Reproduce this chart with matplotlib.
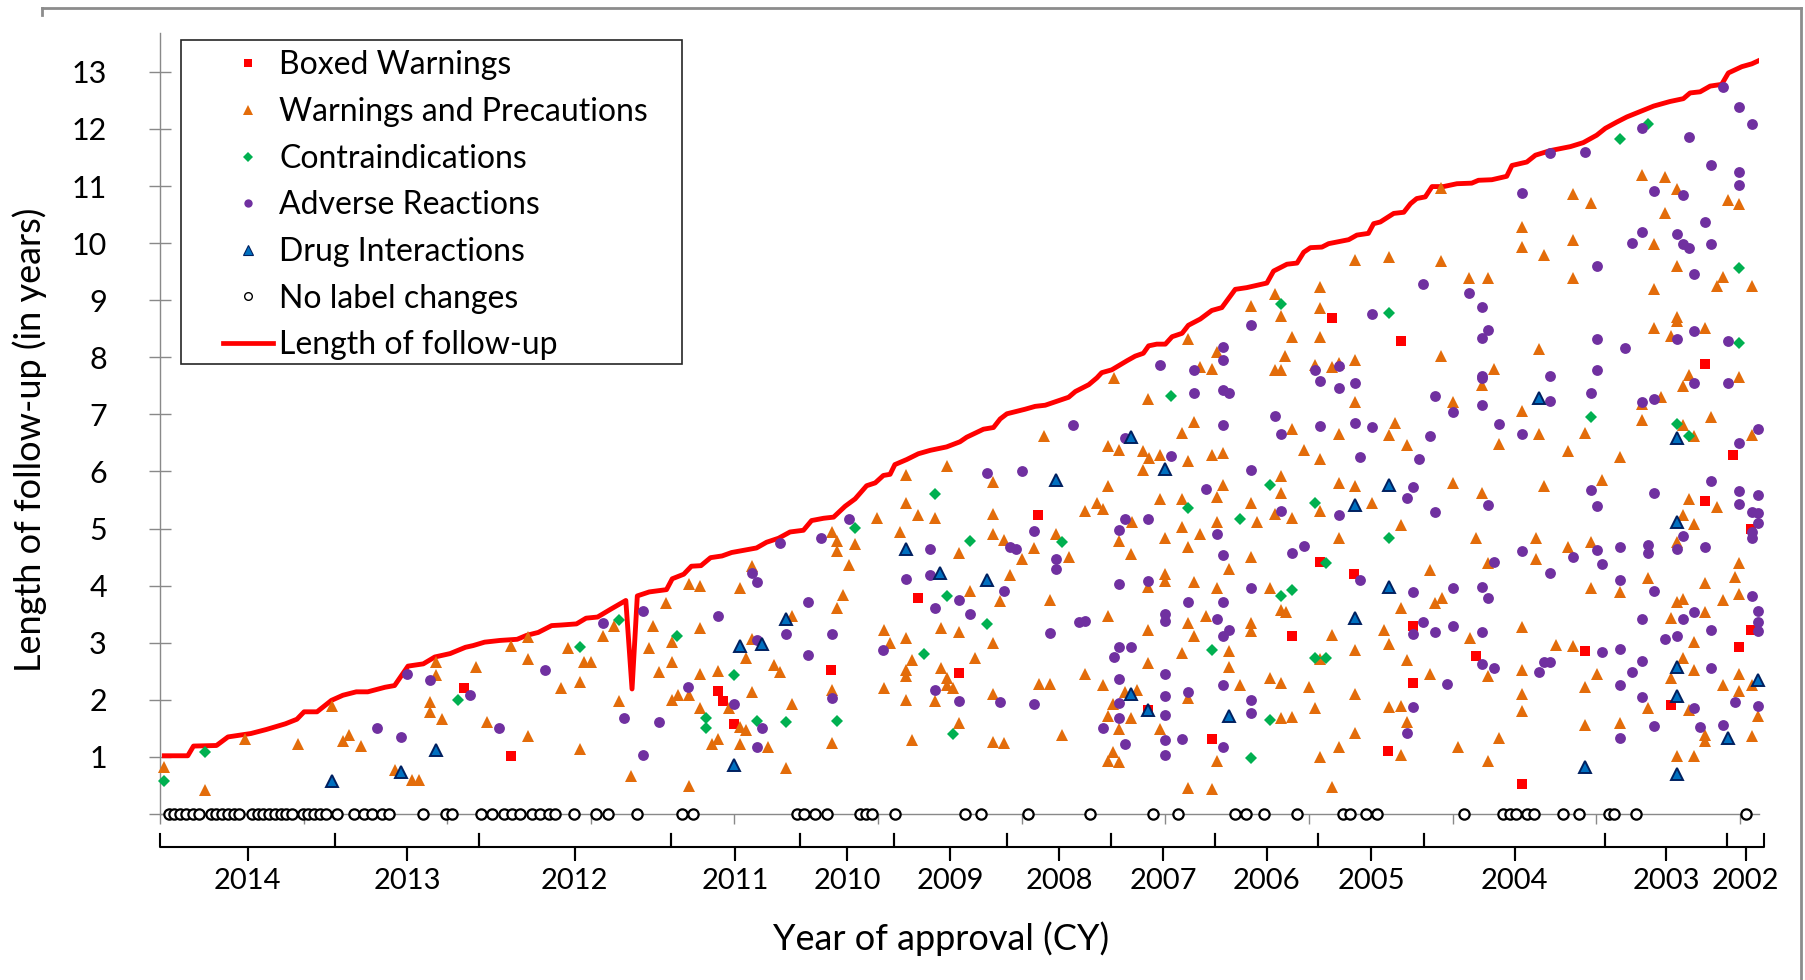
import numpy as np
import matplotlib.pyplot as plt
from matplotlib.lines import Line2D
from matplotlib.patches import Rectangle

plt.rcParams['font.family'] = ['Lato', 'DejaVu Sans']

# x = drug order (newest approval first), y = years since approval
follow_up = [(0.9, 1.02), (5.8, 1.02), (7.0, 1.19), (11.8, 1.20), (14.2, 1.35), (19.0, 1.41), (22.2, 1.48),
             (26.2, 1.58), (28.6, 1.66), (30.1, 1.79), (32.8, 1.79), (35.8, 1.99), (38.2, 2.08), (41.0, 2.14),
             (43.4, 2.14), (47.0, 2.22), (49.0, 2.25), (51.8, 2.59), (55.0, 2.63), (57.4, 2.75), (60.6, 2.81),
             (63.8, 2.92), (65.4, 2.95), (67.8, 3.01), (71.0, 3.04), (74.6, 3.06), (76.6, 3.13), (79.0, 3.18),
             (81.8, 3.30), (83.8, 3.31), (87.0, 3.33), (89.0, 3.43), (91.4, 3.45), (94.2, 3.59), (97.3, 3.74),
             (98.6, 2.19), (99.7, 3.82), (102.2, 3.89), (105.8, 3.93), (107.0, 4.12), (109.4, 4.20), (111.0, 4.34),
             (113.0, 4.35), (115.0, 4.49), (117.4, 4.52), (119.4, 4.58), (124.6, 4.66), (126.7, 4.76), (129.2, 4.83),
             (131.6, 4.94), (134.4, 4.97), (136.1, 5.14), (138.6, 5.18), (140.7, 5.20), (143.1, 5.39), (145.2, 5.52),
             (147.6, 5.75), (149.4, 5.80), (151.1, 5.93), (152.5, 5.95), (153.5, 6.12), (156.0, 6.21), (158.4, 6.31),
             (160.9, 6.37), (164.3, 6.43), (167.1, 6.52), (168.5, 6.60), (172.0, 6.74), (174.1, 6.77), (175.5, 6.92),
             (176.9, 7.01), (180.7, 7.09), (182.8, 7.14), (184.9, 7.16), (187.0, 7.22), (189.8, 7.30), (191.2, 7.40),
             (194.0, 7.52), (195.7, 7.64), (196.7, 7.73), (198.8, 7.78), (202.0, 7.94), (203.7, 8.02), (205.4, 8.07),
             (206.5, 8.20), (208.2, 8.23), (210.0, 8.23), (211.4, 8.36), (213.5, 8.42), (214.8, 8.56), (217.3, 8.67),
             (219.7, 8.82), (221.8, 8.87), (224.6, 9.19), (227.0, 9.22), (231.2, 9.30), (232.6, 9.51), (235.4, 9.63),
             (237.5, 9.65), (238.9, 9.84), (240.3, 9.92), (242.7, 9.93), (244.1, 9.99), (248.3, 10.06), (250.0, 10.14),
             (252.4, 10.17), (253.5, 10.34), (254.9, 10.37), (257.7, 10.52), (259.8, 10.54), (261.2, 10.69),
             (262.5, 10.78), (264.3, 10.81), (265.7, 10.99), (268.1, 10.99), (270.9, 11.04), (274.0, 11.05),
             (275.4, 11.10), (278.2, 11.11), (281.3, 11.17), (282.4, 11.36), (285.5, 11.42), (287.3, 11.54),
             (290.4, 11.62), (294.6, 11.69), (297.3, 11.76), (300.1, 11.89), (301.9, 12.01), (304.3, 12.12),
             (306.4, 12.21), (309.9, 12.33), (312.0, 12.40), (315.4, 12.48), (318.2, 12.53), (319.6, 12.63),
             (321.7, 12.65), (323.8, 12.75), (326.2, 12.78), (327.6, 12.98), (330.4, 13.09), (332.5, 13.14),
             (333.8, 13.19)]

boxed = [(63.6, 2.21), (73.3, 1.02), (116.5, 2.15), (117.7, 1.98), (119.8, 1.58), (140.2, 2.53), (158.3, 3.78),
         (166.8, 2.47), (183.5, 5.24), (206.3, 1.82), (219.7, 1.32), (244.8, 8.69), (259.2, 8.29), (242.3, 4.42),
         (249.5, 4.21), (261.7, 3.29), (236.4, 3.12), (274.9, 2.76), (261.7, 2.29), (256.6, 1.10), (284.5, 0.52),
         (322.8, 7.89), (328.6, 6.29), (322.8, 5.49), (332.3, 4.99), (332.3, 3.23), (329.9, 2.93), (297.7, 2.86),
         (315.6, 1.91)]

warnings = [(0.9, 0.83), (9.4, 0.42), (17.8, 1.32), (28.8, 1.22), (36.0, 1.89), (38.2, 1.27), (39.4, 1.38),
            (42.0, 1.19), (49.0, 0.77), (52.6, 0.59), (54.0, 0.59), (56.4, 1.96), (56.4, 1.79), (57.6, 2.67),
            (57.6, 2.44), (59.0, 1.67), (66.1, 2.57), (68.2, 1.61), (73.3, 2.95), (76.8, 3.10), (76.8, 2.72),
            (76.8, 1.36), (83.8, 2.21), (85.3, 2.90), (87.7, 2.31), (87.7, 1.14), (88.6, 2.67), (90.1, 2.67),
            (92.5, 3.11), (94.9, 3.29), (95.8, 1.98), (98.4, 0.67), (102.1, 2.90), (103.0, 3.30), (104.2, 2.49),
            (105.6, 3.70), (106.9, 3.01), (106.9, 2.67), (106.9, 1.99), (108.2, 2.08), (110.4, 4.03), (110.4, 2.09),
            (110.4, 0.49), (112.8, 3.99), (112.8, 3.25), (112.8, 2.46), (112.8, 1.86), (115.2, 1.22), (116.5, 2.50),
            (116.5, 1.32), (118.9, 1.85),
            (123.6, 4.34), (121.2, 3.96), (123.6, 3.07), (122.4, 2.74), (128.3, 2.61), (129.5, 2.49), (123.6, 2.13),
            (132.1, 3.47), (132.1, 1.92), (121.2, 1.52), (122.4, 1.47), (121.2, 1.23), (127.1, 1.17), (130.8, 0.80),
            (140.3, 4.94), (141.5, 4.79), (141.5, 4.60), (145.2, 4.73), (144.0, 4.36), (142.7, 3.84), (141.5, 3.61),
            (140.3, 2.17), (140.3, 1.25), (149.8, 5.19), (155.8, 5.93), (155.8, 5.45), (154.6, 4.94), (158.4, 5.23),
            (161.9, 5.18), (164.3, 6.09), (151.2, 3.23), (152.5, 2.99), (155.8, 3.09), (157.0, 2.69), (155.8, 2.52),
            (155.8, 2.41), (151.2, 2.20), (155.8, 2.00), (157.0, 1.29), (163.1, 3.25), (163.1, 2.56), (164.3, 2.38),
            (164.3, 2.26), (165.6, 2.21), (161.9, 1.98), (166.8, 4.58), (169.1, 3.90), (166.8, 3.19), (170.3, 2.74),
            (166.8, 1.60), (174.1, 5.82), (174.1, 5.25), (174.1, 4.90), (174.1, 2.99), (174.1, 2.10), (174.1, 1.26),
            (184.7, 6.62), (199.2, 7.64), (206.3, 7.27), (198.1, 6.45), (200.4, 6.38), (205.3, 6.36), (206.5, 6.24),
            (208.8, 6.29), (205.3, 6.03), (214.8, 8.32), (217.3, 7.83), (219.7, 7.80), (220.8, 8.09), (213.5, 6.67),
            (215.9, 6.87), (214.8, 6.18), (219.7, 6.29), (222.0, 6.33), (227.9, 8.90), (198.1, 5.75), (193.3, 5.31),
            (195.7, 5.44), (196.9, 5.35), (208.8, 5.51), (213.5, 5.51), (222.0, 5.76), (220.8, 5.56), (203.0, 5.12),
            (200.4, 4.78), (202.8, 4.56), (210.0, 4.83), (213.5, 5.02), (217.3, 4.91), (214.8, 4.67), (220.8, 5.12),
            (227.9, 5.44), (229.1, 5.11), (187.2, 4.91), (182.5, 4.66), (180.0, 4.47), (189.8, 4.51), (176.2, 4.80),
            (177.6, 4.19), (186.0, 3.75), (175.5, 3.73), (210.0, 4.20), (210.0, 4.08), (206.3, 3.98), (216.0, 4.06),
            (220.8, 3.95), (223.2, 4.30), (227.9, 4.51), (198.1, 3.47), (206.3, 3.22), (214.8, 3.34), (216.0, 3.11),
            (218.5, 3.47), (227.9, 3.35), (227.9, 3.20), (213.5, 2.82), (223.2, 2.86), (206.3, 2.64), (223.2, 2.58),
            (183.7, 2.27), (186.0, 2.27), (193.3, 2.46), (196.9, 2.26), (201.6, 2.14), (204.1, 2.17), (199.0, 1.93),
            (214.8, 2.04), (225.6, 2.26), (198.1, 1.71), (202.8, 1.68), (200.4, 1.49), (208.8, 1.49), (188.4, 1.39),
            (176.2, 1.24), (199.0, 1.08), (198.1, 0.93), (200.4, 0.91), (220.8, 0.93), (214.8, 0.46), (219.7, 0.44),
            (267.6, 10.97), (284.5, 10.29), (284.5, 9.94), (289.1, 9.79), (249.7, 9.71), (256.8, 9.76), (267.6, 9.69),
            (273.5, 9.39), (277.3, 9.38), (232.9, 9.11), (242.3, 9.23), (242.3, 8.87), (234.1, 8.73), (236.4, 8.36),
            (242.3, 8.36), (235.0, 8.02), (232.9, 7.78), (234.1, 7.78), (241.3, 7.86), (244.8, 7.83), (246.2, 7.90),
            (249.7, 7.96), (267.6, 8.02), (288.0, 8.15), (278.6, 7.80), (276.1, 7.51), (249.7, 7.22), (270.1, 7.22),
            (284.5, 7.06), (236.4, 6.75), (246.2, 6.66), (258.0, 6.85), (256.8, 6.63), (260.5, 6.46), (288.0, 6.66),
            (279.6, 6.48), (238.9, 6.38), (242.3, 6.22),
            (234.1, 5.92), (234.1, 5.63), (232.9, 5.25), (236.4, 5.18), (242.3, 5.30), (246.2, 5.79), (249.7, 5.74),
            (253.1, 5.44), (246.2, 4.83), (259.2, 5.06), (270.1, 5.80), (276.1, 5.63), (289.1, 5.74), (274.9, 4.83),
            (287.5, 4.83), (287.5, 4.46), (277.3, 4.40), (265.2, 4.28), (266.4, 3.70), (267.8, 3.78), (231.9, 3.95),
            (234.1, 3.57), (235.2, 3.53), (259.2, 3.60), (255.7, 3.22), (256.8, 2.98), (244.8, 3.14), (249.7, 2.88),
            (273.7, 3.09), (284.5, 3.28), (260.5, 2.69), (265.2, 2.45), (277.3, 2.41), (284.5, 2.53), (242.3, 2.71),
            (231.9, 2.39), (234.1, 2.30), (240.1, 2.22), (249.7, 2.10), (284.5, 2.10), (284.5, 1.81), (241.3, 1.85),
            (256.8, 1.87), (259.2, 1.89), (260.5, 1.62), (234.1, 1.69), (236.4, 1.70), (249.7, 1.42), (246.2, 1.18),
            (242.3, 0.99), (259.2, 1.03), (271.2, 1.18), (279.6, 1.33), (277.3, 0.93), (244.8, 0.48),
            (309.5, 11.19), (314.4, 11.16), (316.8, 10.94), (295.1, 10.86), (298.9, 10.70), (327.6, 10.75),
            (329.9, 10.68), (314.4, 10.53), (295.1, 10.06), (312.1, 9.98), (316.8, 9.60), (295.1, 9.38),
            (312.1, 9.20), (326.5, 9.40), (325.3, 9.25), (332.5, 9.25), (316.8, 8.71), (316.8, 8.64), (312.1, 8.52),
            (322.8, 8.52), (315.6, 8.37), (319.3, 7.69), (318.1, 7.50), (329.9, 7.65), (313.5, 7.30), (309.5, 7.19),
            (309.5, 6.90), (324.0, 6.96), (318.1, 6.81), (297.7, 6.67), (320.5, 6.62), (332.5, 6.64), (294.0, 6.36),
            (304.9, 6.26),
            (301.2, 5.85), (319.3, 5.51), (318.1, 5.24), (320.5, 5.08), (325.3, 5.37), (294.0, 4.68), (298.9, 4.77),
            (316.8, 4.77), (329.9, 4.39), (329.0, 4.16), (329.9, 3.86), (322.8, 4.05), (310.9, 4.14), (298.9, 3.95),
            (304.9, 3.89), (316.8, 3.72), (318.1, 3.76), (326.5, 3.74), (315.6, 3.44), (322.8, 3.53), (320.5, 3.02),
            (291.6, 2.96), (295.1, 2.94), (318.1, 2.74), (320.5, 2.53), (315.6, 2.38), (329.9, 2.46), (332.5, 2.26),
            (326.5, 2.26), (329.9, 2.16), (300.1, 2.45), (297.7, 2.22), (310.9, 1.85), (319.3, 1.82), (333.7, 1.72),
            (297.7, 1.56), (304.9, 1.60), (322.8, 1.38), (322.8, 1.27), (332.5, 1.37), (316.8, 1.02), (320.5, 1.02)]

contra = [(0.9, 0.58), (9.4, 1.08), (62.2, 1.99), (87.7, 2.92), (95.8, 3.39), (108.0, 3.11), (114.1, 1.68),
          (114.1, 1.51), (119.9, 2.44), (124.8, 1.63), (130.8, 1.61), (141.5, 1.63), (145.2, 5.01), (161.9, 5.60),
          (164.3, 3.82), (159.6, 2.81), (169.1, 4.79), (172.7, 3.33), (165.6, 1.40), (211.2, 7.33), (188.4, 4.76),
          (214.8, 5.36), (225.6, 5.17), (219.7, 2.87), (227.9, 0.98), (234.1, 8.93), (256.8, 8.78), (231.9, 5.76),
          (241.3, 5.45), (256.8, 4.83), (243.6, 4.39), (234.1, 3.82), (236.4, 3.93), (241.3, 2.74), (243.6, 2.74),
          (231.9, 1.65), (310.9, 12.08), (304.9, 11.83), (329.9, 9.56), (329.9, 8.25), (298.9, 6.96),
          (316.8, 6.84), (319.3, 6.62)]

adverse = [(45.4, 1.51), (50.4, 1.35), (51.6, 2.46), (56.4, 2.35), (64.8, 2.09), (70.8, 1.50), (80.4, 2.53),
           (92.5, 3.35), (97.0, 1.68), (100.9, 3.56), (100.9, 1.04), (104.2, 1.62), (110.2, 2.22), (116.5, 3.46),
           (123.6, 4.23), (124.8, 4.07), (135.4, 3.72), (124.8, 3.04), (130.8, 3.16), (135.4, 2.78), (119.8, 1.92),
           (125.8, 1.51), (124.8, 1.18), (129.5, 4.74), (138.0, 4.83), (144.0, 5.17), (140.3, 3.16), (140.3, 2.04),
           (151.1, 2.88), (155.8, 4.11), (160.9, 4.64), (160.9, 4.19), (161.9, 3.61), (166.8, 3.74), (169.1, 3.50),
           (161.9, 2.17), (166.8, 1.98), (172.7, 5.97),
           (190.7, 6.82), (208.8, 7.86), (216.0, 7.78), (222.0, 8.18), (222.0, 7.96), (227.9, 8.56), (216.0, 7.38),
           (222.0, 7.42), (223.3, 7.38), (222.0, 6.81), (201.6, 6.58), (211.2, 6.27), (180.0, 6.00), (227.9, 6.02),
           (218.5, 5.70), (201.6, 5.17), (206.3, 5.17), (200.4, 4.98), (182.5, 4.95), (177.6, 4.67), (178.8, 4.64),
           (187.2, 4.47), (187.2, 4.30), (220.8, 4.91), (222.0, 4.53), (176.2, 3.91), (200.4, 4.03), (206.3, 4.08),
           (227.9, 3.95), (214.8, 3.71), (222.0, 3.71), (191.9, 3.36), (193.3, 3.38), (186.0, 3.17), (210.0, 3.51),
           (210.0, 3.38), (220.8, 3.42), (223.3, 3.22), (222.0, 3.11), (200.4, 2.93), (202.8, 2.93), (199.2, 2.75),
           (210.0, 2.46), (200.4, 2.36), (214.8, 2.14), (222.0, 2.26), (227.9, 2.00), (227.9, 1.77), (175.5, 1.97),
           (182.5, 1.93), (200.4, 1.95), (210.0, 2.06), (200.4, 1.69), (210.0, 1.73), (196.9, 1.51), (210.0, 1.29),
           (213.5, 1.32), (201.6, 1.22), (210.0, 1.04), (222.0, 1.17),
           (290.3, 11.58), (284.5, 10.87), (263.9, 9.28), (273.5, 9.13), (276.1, 8.88), (277.3, 8.47),
           (276.1, 8.34), (253.1, 8.76), (241.3, 7.78), (246.2, 7.84), (242.3, 7.58), (246.2, 7.47), (249.7, 7.55),
           (276.1, 7.68), (276.1, 7.63), (290.3, 7.67), (266.4, 7.32), (270.1, 7.04), (276.1, 7.16), (290.3, 7.23),
           (232.9, 6.97), (234.1, 6.66), (242.3, 6.79), (249.7, 6.85), (253.1, 6.77), (265.2, 6.62), (279.6, 6.84),
           (284.5, 6.66), (250.7, 6.25), (262.9, 6.22),
           (261.7, 5.73), (260.5, 5.53), (266.4, 5.29), (277.3, 5.41), (234.1, 5.31), (246.2, 5.24), (236.4, 4.58),
           (238.9, 4.69), (278.6, 4.42), (284.5, 4.61), (290.3, 4.23), (250.7, 4.10), (261.7, 3.89), (270.1, 3.96),
           (276.1, 3.98), (277.3, 3.79), (263.9, 3.37), (261.7, 3.16), (266.4, 3.18), (270.1, 3.29), (276.1, 3.19),
           (276.1, 2.63), (278.6, 2.56), (268.8, 2.27), (288.0, 2.49), (289.1, 2.67), (290.3, 2.67), (261.7, 1.88),
           (260.5, 1.42),
           (297.7, 11.60), (309.5, 12.01), (319.3, 11.85), (326.5, 12.73), (329.9, 12.39), (332.5, 12.08),
           (324.0, 11.37), (329.9, 11.25), (329.9, 11.02), (312.1, 10.91), (318.1, 10.85), (322.8, 10.37),
           (309.5, 10.20), (307.4, 10.01), (316.8, 10.16), (318.1, 9.98), (319.3, 9.92), (324.0, 9.98),
           (300.1, 9.60), (320.5, 9.45), (300.1, 8.32), (306.0, 8.17), (320.5, 8.46), (316.8, 8.32), (327.6, 8.28),
           (300.1, 7.77), (298.9, 7.38), (309.5, 7.21), (312.1, 7.27), (320.5, 7.55), (327.6, 7.55), (333.7, 6.74),
           (329.9, 6.50),
           (324.0, 5.84), (298.9, 5.67), (300.1, 5.40), (312.0, 5.62), (329.9, 5.65), (333.7, 5.59), (329.9, 5.43),
           (332.5, 5.29), (333.7, 5.28), (333.7, 5.10), (332.5, 4.94), (332.5, 4.83), (318.1, 4.87), (316.8, 4.64),
           (322.8, 4.68), (300.1, 4.62), (304.9, 4.68), (310.9, 4.71), (310.9, 4.57), (295.1, 4.50), (301.2, 4.38),
           (304.9, 4.10), (312.1, 3.91), (332.5, 3.81), (333.7, 3.56), (333.7, 3.37), (333.7, 3.21), (320.5, 3.54),
           (318.1, 3.41), (309.5, 3.41), (324.0, 3.22), (316.8, 3.12), (314.4, 3.06), (301.2, 2.83), (304.9, 2.89),
           (309.5, 2.68), (307.4, 2.48), (324.0, 2.55), (304.9, 2.26), (309.5, 2.05), (329.0, 1.97), (320.5, 1.85),
           (333.7, 1.89), (312.1, 1.54), (321.7, 1.52), (326.5, 1.56), (304.9, 1.33)]

interactions = [(36.0, 0.58), (50.4, 0.74), (57.6, 1.12), (119.8, 0.85), (121.2, 2.94), (125.8, 2.98),
                (130.8, 3.41), (155.8, 4.64), (162.9, 4.22), (172.7, 4.09), (202.8, 6.60), (187.2, 5.85),
                (210.0, 6.05), (202.8, 2.11), (206.3, 1.82), (223.2, 1.71), (288.0, 7.28), (256.8, 5.76),
                (249.7, 5.41), (256.8, 3.98), (249.7, 3.43), (316.8, 6.59), (316.8, 5.12), (316.8, 2.57),
                (316.8, 2.06), (333.7, 2.34), (327.5, 1.33), (297.7, 0.82), (316.8, 0.70)]

no_change = [1.8, 3.0, 4.2, 5.4, 6.9, 8.2, 10.6, 11.8, 13.0, 14.2, 15.4, 16.6, 19.2, 20.4, 21.6, 22.8, 24.0,
             25.2, 26.4, 27.6, 29.8, 31.0, 32.2, 33.4, 34.6, 37.0, 40.6, 42.6, 44.2, 46.4, 47.8, 55.0, 59.8, 61.0,
             67.0, 69.4, 71.8, 73.6, 75.2, 77.8, 79.4, 81.3, 82.6, 86.5, 91.0, 93.6, 99.7, 109.0, 111.4, 133.0,
             134.5, 136.8, 139.3, 146.2, 147.4, 148.7, 153.5, 168.2, 171.4, 181.4, 194.3, 207.5, 212.6, 224.6,
             226.9, 230.5, 237.6, 247.1, 248.5, 252.0, 254.3, 272.3, 280.6, 281.9, 283.3, 285.5, 286.9, 293.0,
             296.5, 302.6, 303.8, 308.3, 331.3]

years = ['2014', '2013', '2012', '2011', '2010', '2009', '2008', '2007', '2006', '2005', '2004', '2003', '2002']
year_edges = [0, 36.6, 66.6, 106.7, 133.7, 153.3, 176.9, 198.7, 220.4, 241.9, 264.0, 301.9, 327.3, 335.1]

W, H = 1805, 980
fig = plt.figure(figsize=(W / 100, H / 100), dpi=100)
ax = fig.add_axes([160 / W, 1 - 814 / H, (1759 - 160) / W, (814 - 33) / H])
ax.set_xlim(0, 334)
ax.set_ylim(0, 13.68)

fx, fy = np.array(follow_up).T
ax.plot(fx, fy, color='#FF0000', lw=3.5, solid_joinstyle='round', zorder=2)

styles = [
    (boxed, dict(marker='s', ms=7.2, mfc='#FF0000', mec='#FF0000', mew=0)),
    (warnings, dict(marker='^', ms=8.8, mfc='#E36C0A', mec='#E36C0A', mew=0)),
    (contra, dict(marker='D', ms=6.4, mfc='#00B050', mec='#00B050', mew=0)),
    (adverse, dict(marker='o', ms=7.8, mfc='#7030A0', mec='#7030A0', mew=0)),
    (interactions, dict(marker='^', ms=8.6, mfc='#0070C0', mec='#002060', mew=1.4)),
]
for i, (pts, st) in enumerate(styles):
    px, py = np.array(pts).T
    ax.plot(px, py, ls='none', zorder=3 + i, clip_on=False, **st)

ax.plot(no_change, np.zeros(len(no_change)), ls='none', marker='o', ms=7.4, mfc='white', mec='black',
        mew=1.6, zorder=9, clip_on=False)

for s in ['top', 'right']:
    ax.spines[s].set_visible(False)
for s in ['left', 'bottom']:
    ax.spines[s].set_color('#898989')
    ax.spines[s].set_linewidth(1.0)

ax.set_yticks(range(14))
ax.set_yticklabels([''] + [str(i) for i in range(1, 14)])
ax.set_xticks(np.arange(0, 331, 30))
ax.tick_params(axis='y', direction='inout', length=16.5, width=1.0, color='#898989', labelsize=22, pad=30)
ax.tick_params(axis='x', direction='out', length=7, width=1.0, color='#898989', labelbottom=False)

# year brackets under the axis
top, line, bot = -0.35, -0.58, -0.81
for i, yr in enumerate(years):
    a, b = year_edges[i], year_edges[i + 1]
    mid = (a + b) / 2
    ax.plot([a, a, mid, mid, mid, b, b], [top, line, line, bot, line, line, top], color='black', lw=1.5,
            clip_on=False, solid_joinstyle='round')
    ax.text(mid, -1.31, yr, ha='center', va='baseline', fontsize=21)

fig.text(30 / W, 1 - 440 / H, 'Length of follow-up (in years)', rotation=90, ha='center', va='center',
         fontsize=26)
fig.text(941 / W, 1 - 950 / H, 'Year of approval (CY)', ha='center', va='baseline', fontsize=26)

handles = [
    Line2D([], [], ls='none', marker='s', ms=5.5, mfc='#FF0000', mec='#FF0000', mew=0),
    Line2D([], [], ls='none', marker='^', ms=6.5, mfc='#E36C0A', mec='#E36C0A', mew=0),
    Line2D([], [], ls='none', marker='D', ms=4.8, mfc='#00B050', mec='#00B050', mew=0),
    Line2D([], [], ls='none', marker='o', ms=6, mfc='#7030A0', mec='#7030A0', mew=0),
    Line2D([], [], ls='none', marker='^', ms=6.5, mfc='#0070C0', mec='#002060', mew=0.8),
    Line2D([], [], ls='none', marker='o', ms=5.5, mfc='white', mec='black', mew=1.0),
    Line2D([], [], color='#FF0000', lw=3.4),
]
labels = ['Boxed Warnings', 'Warnings and Precautions', 'Contraindications', 'Adverse Reactions',
          'Drug Interactions', 'No label changes', 'Length of follow-up']
fig.legend(handles, labels, loc='upper left', bbox_to_anchor=(223 / W, 1 - 50.5 / H), frameon=False,
           fontsize=23, handlelength=1.57, handletextpad=0.19, labelspacing=0.52, borderpad=0,
           borderaxespad=0, numpoints=1)
fig.add_artist(Rectangle((181 / W, 1 - 364 / H), (682 - 181) / W, (364 - 40) / H, transform=fig.transFigure,
                         fill=False, ec='#262626', lw=1.2))

# chart area border (cropped)
border = dict(color='#8C8C8C', lw=2, transform=fig.transFigure)
fig.add_artist(Line2D([42 / W, 1801 / W], [1 - 8 / H, 1 - 8 / H], **border))
fig.add_artist(Line2D([1801 / W, 1801 / W], [1 - 8 / H, 0], **border))
fig.add_artist(Line2D([42 / W, 42 / W], [1 - 8 / H, 1 - 15 / H], **border))

fig.savefig('out.png', dpi=100)
